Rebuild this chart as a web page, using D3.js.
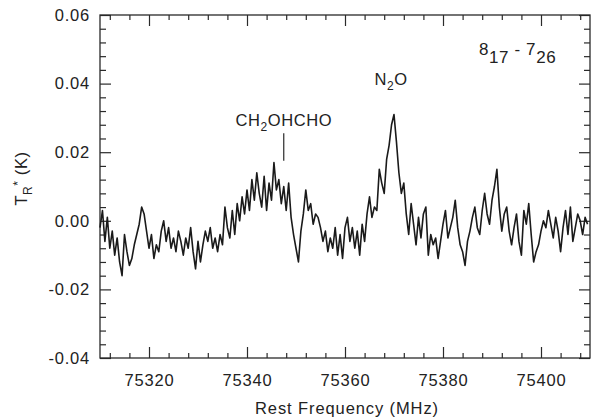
<!DOCTYPE html>
<html lang="en">
<head>
    <meta charset="UTF-8">
    <title>Spectrum 8(17)-7(26)</title>
    <script src="https://d3js.org/d3.v7.min.js"></script>
    <style>
        body { margin: 0; background: #fff; }
        text { font-family: "Liberation Sans", Arial, sans-serif; fill: #222; }
    </style>
</head>
<body>
<script>
    // Canvas size
    const w = 591;
    const h = 420;
    const margin = { top: 15, right: 1, bottom: 62, left: 100 };

    // Spectrum: channel grid (MHz) and antenna temperature (mK)
    const freqStart = 75310;
    const channelWidth = 0.5;
    const tempMilliK = [
        -2, 3, -6, 1, -8, -3, -10, -5, -12, -16, -4, -9, -13, -11, -7, -4, -1, 4, 2, -3,
        -8, -4, -11, -7, -9, -3, 0, -6, -2, -8, -5, -9, -3, -6,
        -10, -5, -8, -2, -9, -14, -6, -12, -7, -3, -6, -2, -8, -5, -9, -4, -7, 4, -2, -5,
        3, -4, 5, 0, 7, 2, 9, 3, 12, 6, 14, 8,
        4, 13, 3, 11, 6, 17, 9, 12, 5, 10, 3, 11, 1, -4, -8, -12, -3, 2, 9, 3,
        5, -1, 2, 1, -2, -6, -3, -9, -5, -8, -2, -10,
        -4, -11, -2, 1, -6, -2, -8, -3, -10, -1, -6, 2, 7, 1, 4, 3, 15, 11, 8, 18,
        22, 28, 31, 23, 14, 8, 11, 2, -4, 5, -1, -7, 1,
        -5, 2, 4, -10, -4, -7, -5, -11, -6, -1, 3, -5, -2, 1, 6, -2, -7, -9, -13, -6,
        -3, 1, 4, -2, -4, 3, 8, 2, -1, 6, 10, 15, 4, -3,
        2, 4, -3, -7, -2, 2, -6, -10, 3, -1, 5, -4, -12, -9, -7, -3, 0, -2, 3, -1,
        -5, 1, -3, -9, -2, 3, -4, 4, -6, -2, 2, 0, -4, 1, -1
    ];

    // Axis ticks
    const xTicks = [75320, 75340, 75360, 75380, 75400];
    const xMinorTicks = d3.range(75312, 75410, 4).filter(d => !xTicks.includes(d));
    const yTicks = [-0.04, -0.02, 0.00, 0.02, 0.04, 0.06];
    const yMinorTicks = d3.range(-40, 61, 4).map(d => d / 1000).filter(d => !yTicks.some(t => Math.abs(t - d) < 1e-9));

    // Line labels
    const lineLabels = [
        { name: "CH", sub: "2", rest: "OHCHO", freq: 75347.5, yText: 0.0275, marker: [0.0255, 0.0175] },
        { name: "N", sub: "2", rest: "O", freq: 75369.4, yText: 0.0395, marker: null }
    ];

    const spectrum = tempMilliK.map((t, i) => ({ freq: freqStart + i * channelWidth, temp: t / 1000 }));

    const svg = d3.select("body")
        .append("svg")
        .attr("width", w)
        .attr("height", h);

    const x = d3.scaleLinear()
        .domain([75310, 75410])
        .range([margin.left, w - margin.right]);

    const y = d3.scaleLinear()
        .domain([-0.04, 0.06])
        .range([h - margin.bottom, margin.top]);

    const ink = "#2a2a2a";
    const fmtY = d => d3.format(".2f")(d).replace("\u2212", "-");

    // Helper that styles an axis group
    function styleAxis(g) {
        g.select(".domain").remove();
        g.selectAll(".tick line").attr("stroke", ink).attr("stroke-width", 1.2);
        g.selectAll(".tick text")
            .attr("fill", ink)
            .style("font-size", "16.5px")
            .style("letter-spacing", "0.8px");
    }

    // Bottom axis (labels, inward ticks)
    svg.append("g")
        .attr("transform", `translate(0, ${y.range()[0]})`)
        .call(d3.axisBottom(x).tickValues(xTicks).tickSize(-11).tickPadding(16).tickFormat(d3.format("d")))
        .call(styleAxis);
    svg.append("g")
        .attr("transform", `translate(0, ${y.range()[0]})`)
        .call(d3.axisBottom(x).tickValues(xMinorTicks).tickSize(-5).tickFormat(""))
        .call(styleAxis);

    // Top axis (mirrored ticks)
    svg.append("g")
        .attr("transform", `translate(0, ${y.range()[1]})`)
        .call(d3.axisTop(x).tickValues(xTicks).tickSize(-11).tickFormat(""))
        .call(styleAxis);
    svg.append("g")
        .attr("transform", `translate(0, ${y.range()[1]})`)
        .call(d3.axisTop(x).tickValues(xMinorTicks).tickSize(-5).tickFormat(""))
        .call(styleAxis);

    // Left axis
    svg.append("g")
        .attr("transform", `translate(${x.range()[0]}, 0)`)
        .call(d3.axisLeft(y).tickValues(yTicks).tickSize(-11).tickPadding(10).tickFormat(fmtY))
        .call(styleAxis);
    svg.append("g")
        .attr("transform", `translate(${x.range()[0]}, 0)`)
        .call(d3.axisLeft(y).tickValues(yMinorTicks).tickSize(-6).tickFormat(""))
        .call(styleAxis);

    // Right axis
    svg.append("g")
        .attr("transform", `translate(${x.range()[1]}, 0)`)
        .call(d3.axisRight(y).tickValues(yTicks).tickSize(-11).tickFormat(""))
        .call(styleAxis);
    svg.append("g")
        .attr("transform", `translate(${x.range()[1]}, 0)`)
        .call(d3.axisRight(y).tickValues(yMinorTicks).tickSize(-6).tickFormat(""))
        .call(styleAxis);

    // Frame
    svg.append("rect")
        .attr("x", x.range()[0])
        .attr("y", y.range()[1])
        .attr("width", x.range()[1] - x.range()[0])
        .attr("height", y.range()[0] - y.range()[1])
        .attr("fill", "none")
        .attr("stroke", ink)
        .attr("stroke-width", 1.3);

    // Spectrum trace
    const line = d3.line()
        .x(d => x(d.freq))
        .y(d => y(d.temp));

    svg.append("path")
        .datum(spectrum)
        .attr("d", line)
        .attr("fill", "none")
        .attr("stroke", "#1a1a1a")
        .attr("stroke-width", 1.6)
        .attr("stroke-linejoin", "round");

    // Line identifications
    lineLabels.forEach(l => {
        const t = svg.append("text")
            .attr("x", x(l.freq))
            .attr("y", y(l.yText))
            .attr("text-anchor", "middle")
            .style("font-size", "16.5px")
            .style("letter-spacing", "0.6px");
        t.append("tspan").text(l.name);
        t.append("tspan").attr("dy", 5).style("font-size", "12px").text(l.sub);
        t.append("tspan").attr("dy", -5).text(l.rest);
        if (l.marker) {
            svg.append("line")
                .attr("x1", x(l.freq)).attr("x2", x(l.freq))
                .attr("y1", y(l.marker[0])).attr("y2", y(l.marker[1]))
                .attr("stroke", ink)
                .attr("stroke-width", 1.2);
        }
    });

    // Transition label
    const trans = svg.append("text")
        .attr("x", 479)
        .attr("y", 55)
        .style("font-size", "17px")
        .style("letter-spacing", "0.6px");
    trans.append("tspan").text("8");
    trans.append("tspan").attr("dy", 8).text("17");
    trans.append("tspan").attr("dy", -8).text(" - 7");
    trans.append("tspan").attr("dy", 8).text("26");

    // Axis titles
    svg.append("text")
        .attr("x", (x.range()[0] + x.range()[1]) / 2 + 2)
        .attr("y", 414)
        .attr("text-anchor", "middle")
        .style("font-size", "16.5px")
        .style("letter-spacing", "0.9px")
        .text("Rest Frequency (MHz)");

    const yTitle = svg.append("text")
        .attr("transform", `translate(27, ${(y.range()[0] + y.range()[1]) / 2 - 8}) rotate(-90)`)
        .attr("text-anchor", "middle")
        .style("font-size", "16.5px")
        .style("letter-spacing", "0.6px");
    yTitle.append("tspan").text("T");
    yTitle.append("tspan").attr("dy", 5).style("font-size", "12px").text("R");
    yTitle.append("tspan").attr("dy", -10).style("font-size", "12px").text("*");
    yTitle.append("tspan").attr("dy", 5).text(" (K)");
</script>
</body>
</html>
